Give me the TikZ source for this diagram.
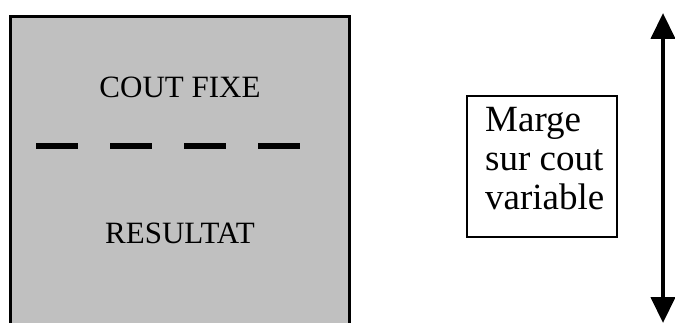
\documentclass[tikz,border=0pt]{standalone}
\usepackage{fontspec}
\setmainfont{Liberation Serif}
\usetikzlibrary{arrows.meta}
\definecolor{panelgray}{HTML}{C0C0C0}
\tikzset{
  panellabel/.style={font=\fontsize{31}{36}\selectfont, inner sep=0, anchor=base},
  framebox/.style={draw, line width=2, minimum width=150, minimum height=141, inner sep=0},
  boxtext/.style={font=\fontsize{37}{39}\selectfont, align=left, inner sep=0, anchor=north west},
  span/.style={line width=4.3, {Triangle[length=26pt,width=24pt]}-{Triangle[length=26pt,width=24pt]}}
}
\begin{document}
\begin{tikzpicture}[x=1pt,y=-1pt]
\useasboundingbox (0,0) rectangle (675,323);
\clip (0,0) rectangle (675,323);
% grey panel, open at the bottom
\fill[panelgray] (9,15) rectangle (351,330);
\draw[line width=3.3] (10.65,330) -- (10.65,16.65) -- (349.35,16.65) -- (349.35,330);
\node[panellabel] (fixe) at (180,97.3) {COUT FIXE};
\node[panellabel] (res) at (180,244) {RESULTAT};
% separating dashed line
\coordinate (sepL) at (36,145.7);
\coordinate (sepR) at (300,145.7);
\draw[line width=6, dash pattern=on 42pt off 32pt] (sepL) -- (sepR);
% margin box
\node[framebox] (marge) at (542,166.5) {};
\node[boxtext] (margetxt) at (485,107.5) {Marge\\sur cout\\variable};
% double arrow
\coordinate (up) at (663,13);
\coordinate (down) at (663,323);
\draw[span] (up) -- (down);
\end{tikzpicture}
\end{document}
